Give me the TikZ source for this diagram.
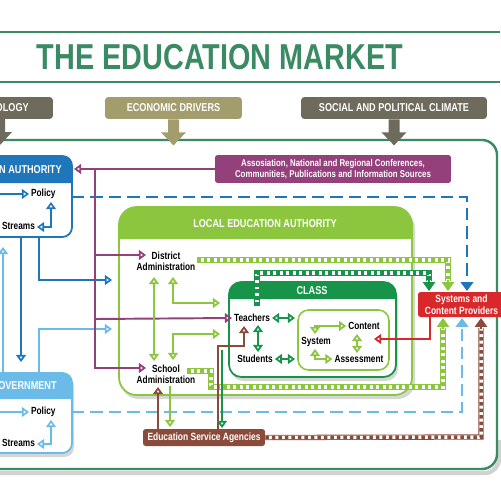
\documentclass[tikz,border=0pt]{standalone}
\usepackage{fontspec}
\setmainfont{Liberation Sans}[FakeStretch=0.8]
\usetikzlibrary{arrows.meta}
\definecolor{frameg}{RGB}{58,138,100}
\definecolor{hdark}{RGB}{110,106,92}
\definecolor{khaki}{RGB}{163,156,108}
\definecolor{purp}{RGB}{147,64,123}
\definecolor{dblue}{RGB}{31,118,187}
\definecolor{lblue}{RGB}{107,187,232}
\definecolor{lgreen}{RGB}{140,198,63}
\definecolor{dgreen}{RGB}{23,147,74}
\definecolor{sred}{RGB}{216,40,43}
\definecolor{brn}{RGB}{138,75,58}
\tikzset{
  oh/.tip={Triangle[open,length=4pt,width=5.5pt]},
  ft/.tip={Triangle[length=5pt,width=7pt]},
}
\begin{document}
\begin{tikzpicture}[x=0.02cm,y=-0.02cm,
  lbl/.style={font=\fontsize{5.9}{6.3}\selectfont\bfseries, inner sep=1pt, align=center, text=black},
  hdr/.style={font=\fontsize{6.5}{7.5}\selectfont\bfseries, text=white, inner sep=0pt},
  hbox/.style={hdr, rounded corners=2pt, minimum height=0.44cm},
  wbox/.style={font=\fontsize{6}{7}\selectfont\bfseries, text=white, rounded corners=1.5pt, align=center, inner sep=0pt},
  conn/.style={line width=1.1pt, -oh},
  both/.style={line width=1.1pt, oh-oh},
  stripe/.style={draw=#1, line width=3pt,
    postaction={draw=white, line width=2pt},
    postaction={draw=#1, line width=2pt, dash pattern=on 2pt off 1.7pt}},
  dashline/.style={draw=#1, line width=1.4pt, dash pattern=on 7pt off 3.5pt},
  tiponly/.style={draw=#1, fill=#1, line width=0.6pt, -ft},
  shade/.style={fill=black!16},
]
\useasboundingbox (0,0) rectangle (500,500);
\fill[white] (0,0) rectangle (500,500);

% title band
\draw[frameg, line width=1.3pt] (0,32) -- (500,32);
\draw[frameg, line width=1.3pt] (0,82) -- (500,82);
\node[font=\fontsize{20.5}{24}\selectfont\bfseries, text=frameg] (title) at (220,57) {THE EDUCATION MARKET};

% outer frame
\draw[black!18, line width=2.4pt, rounded corners=8pt] (-20,473) -- (499,473) -- (499,440);
\draw[frameg, line width=1.4pt, rounded corners=8.5pt] (-20,140) rectangle (497,469);

% header boxes
\node[hbox, fill=hdark, minimum width=2.26cm] (tech) at (-3.5,108) {TECHNOLOGY};
\node[hbox, fill=khaki, minimum width=2.74cm] (econ) at (173.5,108) {ECONOMIC DRIVERS};
\node[hbox, fill=hdark, minimum width=3.72cm] (soc) at (394,108) {SOCIAL AND POLITICAL CLIMATE};
\fill[hdark] (0,119) ++(-5,0) -- ++(0,13) -- ++(-7,0) -- ++(12,13) -- ++(12,-13) -- ++(-7,0) -- ++(0,-13) -- cycle;
\fill[khaki] (econ.south) ++(-5.5,0) -- ++(0,13) -- ++(-7,0) -- ++(12.5,13) -- ++(12.5,-13) -- ++(-7,0) -- ++(0,-13) -- cycle;
\fill[hdark] (soc.south) ++(-5.5,0) -- ++(0,13) -- ++(-7,0) -- ++(12.5,13) -- ++(12.5,-13) -- ++(-7,0) -- ++(0,-13) -- cycle;

% association box
\node[wbox, fill=purp, minimum width=4.72cm, minimum height=0.56cm, font=\fontsize{5.6}{6.6}\selectfont\bfseries] (assoc) at (333,169)
  {Assosiation, National and Regional Conferences,\\Communities, Publications and Information Sources};

% state education authority
\draw[dblue, line width=1pt, fill=white, rounded corners=5.5pt] (-40,156) rectangle (72,237);
\fill[dblue] (-40,183) [rounded corners=5.5pt] -- (-40,156) -- (72,156) [sharp corners] -- (72,183) -- cycle;
\node[hdr, anchor=east] (seah) at (62,170) {STATE EDUCATION AUTHORITY};
\node[lbl, anchor=west] (sp) at (29,194) {Policy};
\node[lbl, anchor=east] (ss) at (37,227) {Funding Streams};
\draw[conn, dblue, line width=0.9pt] (-10,194) -- (sp.west);
\draw[both, dblue, line width=0.9pt] (ss.east) -- (51,227) -- (51,202);

% government
\fill[shade, rounded corners=5.5pt] (-38,377) rectangle (74,457);
\draw[lblue, line width=1pt, fill=white, rounded corners=5.5pt] (-40,373) rectangle (72,453);
\fill[lblue] (-40,399) [rounded corners=5.5pt] -- (-40,373) -- (72,373) [sharp corners] -- (72,399) -- cycle;
\node[hdr, anchor=east] (govh) at (57,386) {FEDERAL GOVERNMENT};
\node[lbl, anchor=west] (gp) at (29,412) {Policy};
\node[lbl, anchor=east] (gs) at (37,444) {Funding Streams};
\draw[conn, lblue, line width=0.9pt] (-10,412) -- (gp.west);
\draw[both, lblue, line width=0.9pt] (gs.east) -- (51,444) -- (51,420);

% local education authority
\fill[shade, rounded corners=10pt] (121,211) rectangle (415,399);
\draw[lgreen, line width=1pt, fill=white, rounded corners=10pt] (119,207) rectangle (412,395);
\fill[lgreen] (119,239) [rounded corners=11pt] -- (119,207) -- (412,207) [sharp corners] -- (412,239) -- cycle;
\node[hdr] (leah) at (265,224) {LOCAL EDUCATION AUTHORITY};

% class
\fill[shade, rounded corners=7pt] (231,285) rectangle (398,381);
\draw[dgreen, line width=1pt, fill=white, rounded corners=7pt] (229,282) rectangle (396,377);
\fill[dgreen] (229,299) [rounded corners=7pt] -- (229,282) -- (396,282) [sharp corners] -- (396,299) -- cycle;
\node[hdr] (classh) at (312,291) {CLASS};
\draw[lgreen, line width=0.9pt, fill=white, rounded corners=6pt] (298,310) rectangle (389,370);

% labels
\node[lbl] (dist) at (166,261) {District\\Administration};
\node[lbl] (school) at (166,374) {School\\Administration};
\node[lbl] (teach) at (252,318) {Teachers};
\node[lbl] (stud) at (255,359) {Students};
\node[lbl] (cont) at (364,326) {Content};
\node[lbl] (syst) at (316,342) {System};
\node[lbl] (asse) at (359,359) {Assessment};

% systems box and ESA
\node[wbox, fill=sred, minimum width=1.74cm, minimum height=0.5cm] (sys) at (461.5,304.5) {Systems and\\Content Providers};
\node[wbox, fill=brn, minimum width=2.44cm, minimum height=0.34cm] (esa) at (204,437.5) {Education Service Agencies};

% dashed blue lines
\draw[dashline=dblue, -ft] (72,197) -- (467,197) -- (467,291);
\draw[dashline=lblue, -ft] (72,412) -- (462,412) -- (462,318);

% blue connectors
\draw[conn, dblue] (21,237) -- (21,362);
\draw[conn, dblue] (39,237) -- (39,280) -- (112,280);
\draw[conn, lblue] (39,373) -- (39,329) -- (112,329);
\draw[conn, lblue] (3,373) -- (3,247);

% purple connectors
\draw[conn, purp] (assoc.west) -- (74,169);
\draw[conn, purp] (95,169) -- (95,368) -- (146,368);
\draw[conn, purp] (95,255) -- (146,255);
\draw[conn, purp] (95,319) -- (teach.west);

% striped connectors
\draw[stripe=lgreen] (dist.east |- 0,260) -- (448,260) -- (448,281);
\draw[tiponly=lgreen] (448,280) -- (448,291);
\draw[stripe=dgreen] (257,306) -- (257,273) -- (429,273) -- (429,281);
\draw[tiponly=dgreen] (429,280) -- (429,291);
\draw[stripe=lgreen] (187,371) -- (211,371) -- (211,387) -- (443,387) -- (443,328);
\draw[tiponly=lgreen] (443,329) -- (443,318);
\draw[stripe=brn] (esa.east) -- (481,437) -- (481,328);
\draw[tiponly=brn] (481,329) -- (481,318);

% light green LEA arrows
\draw[both, lgreen] (154,277) -- (154,361);
\draw[both, lgreen] (173,277) -- (173,303) -- (220,303);
\draw[both, lgreen] (173,360) -- (173,334) -- (220,334);
\draw[conn, lgreen] (170,386) -- (170,427);

% brown and dark green to/from ESA
\draw[conn, brn] (158,429) -- (158,387);
\draw[conn, brn] (218,429) -- (218,346) -- (244,346) -- (244,326);
\draw[conn, dgreen] (222,350) -- (222,428);

% class arrows
\draw[both, dgreen] (teach.east) -- (295,318);
\draw[both, dgreen] (stud.east) -- (295,359);
\draw[both, dgreen] (258,325) -- (258,352);
\draw[both, lgreen] (315,334) -- (315,326) -- (cont.west);
\draw[both, lgreen] (357,334) -- (357,353);
\draw[both, lgreen] (315,349) -- (315,359) -- (asse.west);

% red arrow
\draw[conn, sred] (430,317) -- (430,339) -- (374,339);
\end{tikzpicture}
\end{document}
